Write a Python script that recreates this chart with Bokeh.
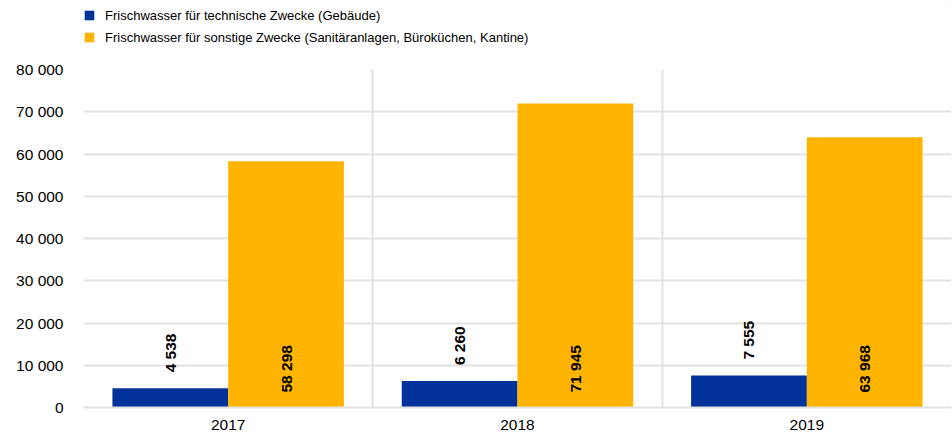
from bokeh.plotting import figure
from bokeh.models import (ColumnDataSource, FixedTicker, Legend, LegendItem,
                          LabelSet, Range1d)
from bokeh.layouts import column
from bokeh.core.properties import value
from bokeh.embed import file_html
from bokeh.resources import INLINE

years = ["2017", "2018", "2019"]
technisch = [4538, 6260, 7555]
sonstige = [58298, 71945, 63968]
series_names = ["Frischwasser für technische Zwecke (Gebäude)",
                "Frischwasser für sonstige Zwecke (Sanitäranlagen, Büroküchen, Kantine)"]
y_ticks = [0, 10000, 20000, 30000, 40000, 50000, 60000, 70000, 80000]

BLUE = "#003299"
ORANGE = "#FFB400"
GRID = "#e2e2e2"
FONT = "Liberation Sans"


def fmt(v):
    return f"{v:,}".replace(",", " ")


idx = list(range(len(years)))
centers = [i + 0.5 for i in idx]
src_a = ColumnDataSource(dict(x=[c - 0.2 for c in centers], top=technisch,
                              lab=[fmt(v) for v in technisch]))
src_b = ColumnDataSource(dict(x=[c + 0.2 for c in centers], top=sonstige,
                              base=[0] * len(sonstige),
                              lab=[fmt(v) for v in sonstige]))

# ---------- legend strip ----------
lf = figure(width=952, height=52, output_backend="svg", toolbar_location=None,
            x_range=Range1d(0, 1), y_range=Range1d(0, 1),
            x_axis_location=None, y_axis_location=None,
            min_border_left=50, min_border_right=0, min_border_top=7,
            min_border_bottom=0)
lf.outline_line_color = None
lf.grid.visible = False
# legend-only renderers, kept outside the visible range
d1 = lf.vbar(x=[5], top=[5], bottom=[4], width=0.1, fill_color=BLUE,
             line_color=None)
d2 = lf.vbar(x=[5], top=[5], bottom=[4], width=0.1, fill_color=ORANGE,
             line_color=None)
legend = Legend(items=[LegendItem(label=series_names[0], renderers=[d1]),
                       LegendItem(label=series_names[1], renderers=[d2])],
                orientation="vertical", location="top_left",
                glyph_width=12, glyph_height=12, label_standoff=10,
                label_height=16, spacing=6, padding=2, margin=0,
                border_line_color=None, background_fill_alpha=0,
                label_text_font=FONT, label_text_font_size="13px",
                label_text_color="#000000")
lf.add_layout(legend, "center")

# ---------- main chart ----------
p = figure(width=952, height=384, output_backend="svg", toolbar_location=None,
           x_range=Range1d(0, len(years)), y_range=Range1d(0, 80000),
           min_border_left=83, min_border_right=1, min_border_bottom=29,
           min_border_top=17)
p.outline_line_color = None
p.background_fill_color = "white"

p.vbar(x="x", top="top", width=0.4, source=src_a, fill_color=BLUE,
       line_color=None)
p.vbar(x="x", top="top", width=0.4, source=src_b, fill_color=ORANGE,
       line_color=None)

la = LabelSet(x="x", y="top", text="lab", source=src_a, angle=90,
              angle_units="deg", text_align="left", text_baseline="middle",
              y_offset=16, text_font=value(FONT), text_font_size="15.5px",
              text_font_style="bold", text_color="black")
lb = LabelSet(x="x", y="base", text="lab", source=src_b, angle=90,
              angle_units="deg", text_align="left", text_baseline="middle",
              y_offset=15, text_font=value(FONT), text_font_size="15.5px",
              text_font_style="bold", text_color="black")
p.add_layout(la)
p.add_layout(lb)

p.yaxis.ticker = FixedTicker(ticks=y_ticks)
p.yaxis.major_label_overrides = {t: fmt(t) for t in y_ticks}
p.yaxis.axis_line_color = None
p.yaxis.major_tick_line_color = None
p.yaxis.minor_tick_line_color = None
p.yaxis.major_tick_out = 0
p.yaxis.major_tick_in = 0
p.yaxis.major_label_text_font = FONT
p.yaxis.major_label_text_font_size = "15.5px"
p.yaxis.major_label_text_color = "#000000"
p.yaxis.major_label_standoff = 20

p.xaxis.ticker = FixedTicker(ticks=centers)
p.xaxis.major_label_overrides = {c: y for c, y in zip(centers, years)}
p.xaxis.axis_line_color = GRID
p.xaxis.axis_line_width = 2
p.xaxis.major_tick_line_color = None
p.xaxis.minor_tick_line_color = None
p.xaxis.major_tick_out = 0
p.xaxis.major_tick_in = 0
p.xaxis.major_label_text_font = FONT
p.xaxis.major_label_text_font_size = "15.5px"
p.xaxis.major_label_text_color = "#000000"
p.xaxis.major_label_standoff = 12

p.ygrid.ticker = FixedTicker(ticks=y_ticks)
p.ygrid.grid_line_color = GRID
p.ygrid.grid_line_width = 2
p.xgrid.ticker = FixedTicker(ticks=list(range(len(years) + 1)))
p.xgrid.grid_line_color = GRID
p.xgrid.grid_line_width = 2

layout = column(lf, p, spacing=0)
open("out.html", "w").write(file_html(layout, INLINE))
